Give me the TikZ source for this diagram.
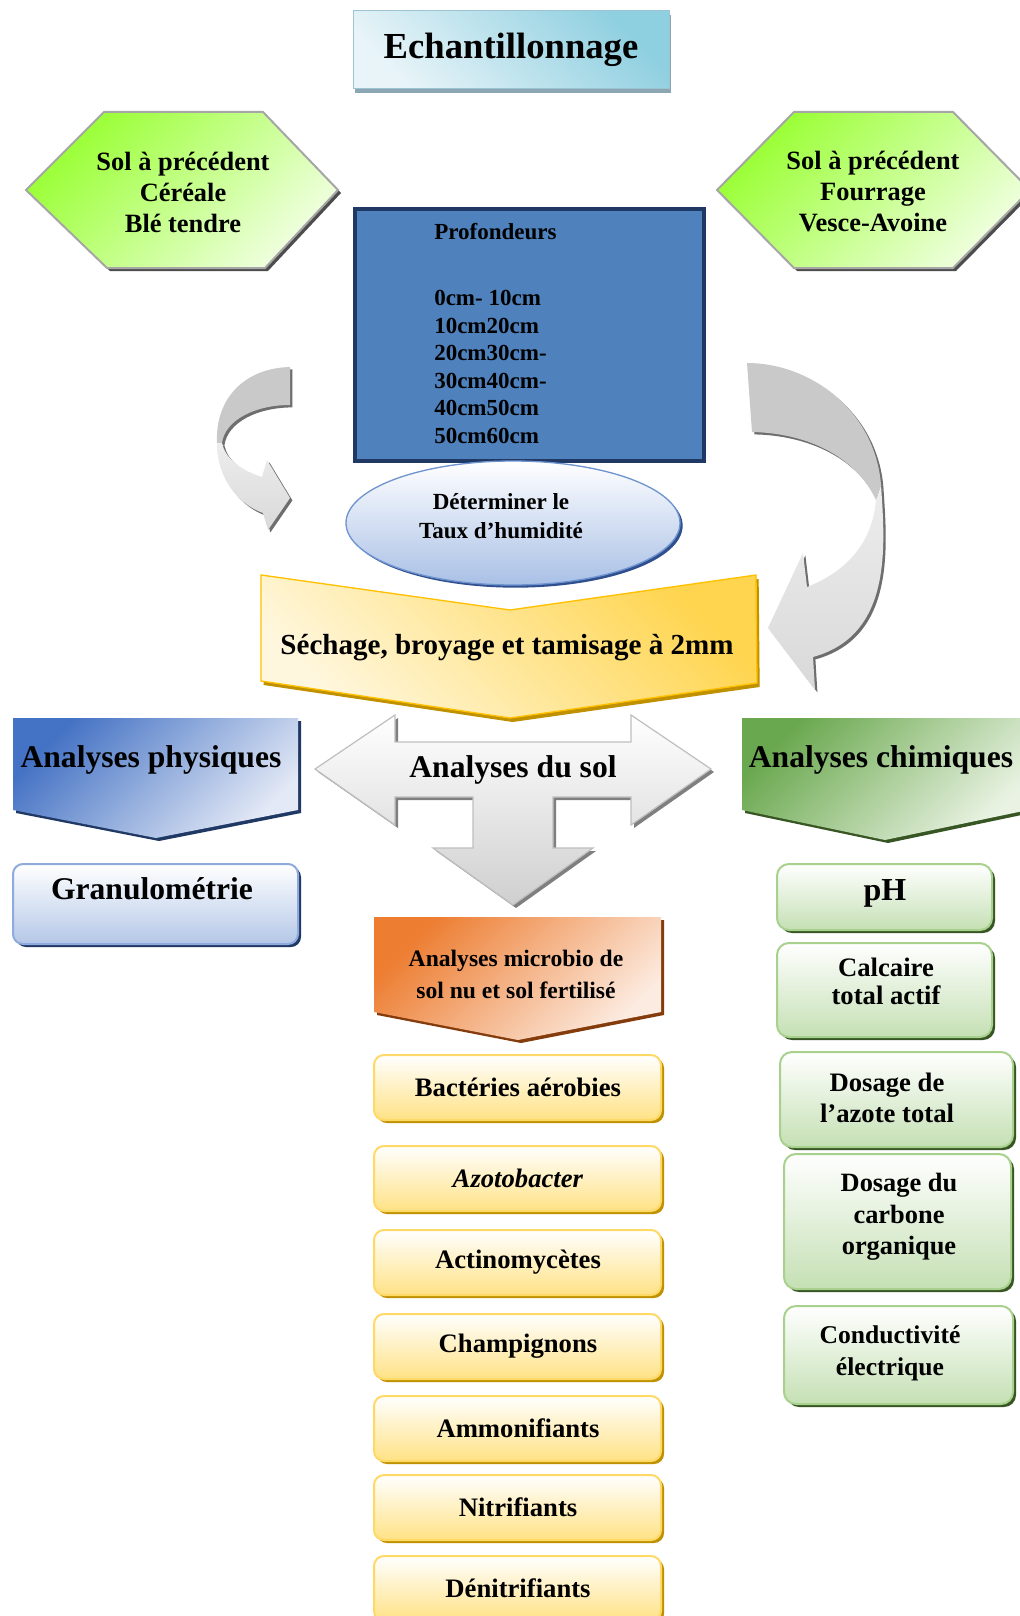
\documentclass[tikz,border=0pt]{standalone}
\usepackage{fontspec}
\setmainfont{Liberation Serif}
\usetikzlibrary{shadows}
\definecolor{EchTop}{HTML}{8ECFE0}
\definecolor{EchBot}{HTML}{E8F4F8}
\definecolor{EchBd}{HTML}{9CC3CF}
\definecolor{EchSh}{HTML}{8BA7B3}
\definecolor{HexTop}{HTML}{99FF33}
\definecolor{HexBot}{HTML}{F0FFE0}
\definecolor{HexBd}{HTML}{A6A6A6}
\definecolor{HexSh}{HTML}{4D4D4D}
\definecolor{ProfFill}{HTML}{4F81BD}
\definecolor{ProfBd}{HTML}{1F3864}
\definecolor{EllBot}{HTML}{A9C0E6}
\definecolor{EllBd}{HTML}{6F94D0}
\definecolor{EllSh}{HTML}{2F4F8F}
\definecolor{SecTop}{HTML}{FFD54F}
\definecolor{SecBot}{HTML}{FFF7DD}
\definecolor{SecBd}{HTML}{FFC000}
\definecolor{SecSh}{HTML}{BF9000}
\definecolor{PhyTop}{HTML}{4472C4}
\definecolor{PhyBot}{HTML}{E3E9F6}
\definecolor{PhySh}{HTML}{1F3864}
\definecolor{ChiTop}{HTML}{6AA84F}
\definecolor{ChiBot}{HTML}{EAF3E3}
\definecolor{ChiSh}{HTML}{375623}
\definecolor{SolBot}{HTML}{CFCFCF}
\definecolor{SolBd}{HTML}{BFBFBF}
\definecolor{SolSh}{HTML}{7F7F7F}
\definecolor{GraBot}{HTML}{B4C7E7}
\definecolor{GraBd}{HTML}{8FAADC}
\definecolor{OraTop}{HTML}{ED7D31}
\definecolor{OraBot}{HTML}{FCEBE0}
\definecolor{OraSh}{HTML}{843C0C}
\definecolor{YelBot}{HTML}{FFE285}
\definecolor{YelBd}{HTML}{FFD966}
\definecolor{GrnBot}{HTML}{C5E0B4}
\definecolor{GrnBd}{HTML}{A9D18E}
\definecolor{CurDark}{HTML}{C9C9C9}
\definecolor{CurLight}{HTML}{EDEDED}
\definecolor{CurMid}{HTML}{D9D9D9}
\definecolor{CurSh}{HTML}{6E6E6E}
\newcommand\fsz[2]{\fontsize{#1}{#2}\selectfont\bfseries}
\tikzset{
  shd/.style 2 args={drop shadow={shadow xshift=#1, shadow yshift=-#1, fill=#2, opacity=1}},
  echbox/.style={draw=EchBd, line width=0.75pt, top color=EchTop, bottom color=EchBot, shading angle=-45,
     drop shadow={shadow xshift=1.5pt, shadow yshift=-3pt, fill=EchSh, opacity=1}},
  hexa/.style={draw=HexBd, line width=1.5pt, top color=HexTop, bottom color=HexBot, shading angle=45, shd={2.25pt}{HexSh}},
  profbox/.style={fill=ProfFill, draw=ProfBd, line width=2.6pt},
  ellbox/.style={draw=EllBd, line width=1pt, top color=white, bottom color=EllBot, shd={2pt}{EllSh}},
  secbox/.style={draw=SecBd, line width=1pt, top color=SecTop, bottom color=SecBot, shading angle=-45,
     drop shadow={shadow xshift=2pt, shadow yshift=-3pt, fill=SecSh, opacity=1}},
  phybox/.style={top color=PhyTop, bottom color=PhyBot, shading angle=45, shd={2.25pt}{PhySh}},
  chibox/.style={top color=ChiTop, bottom color=ChiBot, shading angle=45, shd={2.25pt}{ChiSh}},
  solarrow/.style={draw=SolBd, line width=0.9pt, top color=white, bottom color=SolBot, shd={2.25pt}{SolSh}},
  grabox/.style={draw=GraBd, line width=1.5pt, rounded corners=7.5pt, top color=white, bottom color=GraBot, shd={2.25pt}{PhySh}},
  orabox/.style={top color=OraTop, bottom color=OraBot, shading angle=45, shd={2.25pt}{OraSh}},
  ybox/.style={draw=YelBd, line width=1.5pt, rounded corners=7.5pt, top color=white, bottom color=YelBot, shd={2.25pt}{SecSh}},
  gbox/.style={draw=GrnBd, line width=1.5pt, rounded corners=9pt, top color=white, bottom color=GrnBot, shd={2.25pt}{ChiSh}},
  curdark/.style={fill=CurDark, shd={1.8pt}{CurSh}},
  curlight/.style={top color=CurLight, bottom color=CurMid, shd={1.8pt}{CurSh}},
  lbl/.style={inner sep=0pt, align=center},
}
\begin{document}
\begin{tikzpicture}[x=0.75pt,y=-0.75pt]
\useasboundingbox (0,0) rectangle (1020,1616);
\clip (0,0) rectangle (1020,1616);
\fill[white] (0,0) rectangle (1020,1616);

% Echantillonnage
\path[echbox] (353,11) rectangle (669,89);
\node[lbl, font=\fsz{27.5pt}{33pt}] (ech) at (511,50) {Echantillonnage};

% hexagons
\path[hexa] (26,190) -- (104,112) -- (263,112) -- (338,190) -- (265,268) -- (107,268) -- cycle;
\node[lbl, font=\fsz{19.8pt}{23.25pt}] (hexL) at (183,192) {Sol à précédent\\Céréale\\Blé tendre};
\path[hexa] (717,190) -- (794,112) -- (953,112) -- (1030,190) -- (953,268) -- (794,268) -- cycle;
\node[lbl, font=\fsz{19.8pt}{23.25pt}] (hexR) at (873,192) {Sol à précédent\\Fourrage\\Vesce-Avoine};

% curved arrows
\path[curdark] (290,367) .. controls (245,368) and (215,398) .. (217,443) -- (222,443)
   .. controls (225,420) and (255,405) .. (290,405) -- cycle;
\path[curlight] (217,443) .. controls (217,480) and (240,505) .. (263,513) -- (268,530) -- (290,498)
   -- (267,460) -- (262,477) .. controls (240,470) and (225,458) .. (222,443) -- cycle;
\path[curdark] (747,363) .. controls (810,363) and (875,410) .. (881,485) -- (876,500)
   .. controls (855,455) and (805,433) .. (752,432) -- cycle;
\path[curlight] (881,485) .. controls (885,545) and (893,635) .. (813,657) -- (815,690) -- (768,628)
   -- (803,553) -- (807,587) .. controls (845,572) and (872,545) .. (876,500) -- cycle;

% Profondeurs
\path[profbox] (355,209) rectangle (704,461);
\node[lbl, anchor=west, font=\fsz{17.25pt}{20.7pt}] (prof) at (434,232) {Profondeurs};
\node[lbl, anchor=west, align=left, font=\fsz{17.25pt}{20.7pt}] (profl) at (434,367)
  {0cm- 10cm\\10cm20cm\\20cm30cm-\\30cm40cm-\\40cm50cm\\50cm60cm};

% ellipse
\path[ellbox] (513,523) ellipse [x radius=125.25pt, y radius=46.5pt];
\node[lbl, font=\fsz{17.3pt}{21.75pt}] (hum) at (501,516) {Déterminer le\\Taux d’humidité};

% Sechage
\path[secbox] (261,575) -- (510,610) -- (756,575) -- (757,683) -- (510,718) -- (261,681) -- cycle;
\node[lbl, font=\fsz{21.8pt}{26pt}] (sech) at (507,648) {Séchage, broyage et tamisage à 2mm};

% Analyses physiques / chimiques
\path[phybox] (13,718) -- (298,718) -- (298,810) -- (156,838) -- (13,810) -- cycle;
\node[lbl, font=\fsz{23.7pt}{28pt}] (phy) at (151,760) {Analyses physiques};
\path[chibox] (742,718) -- (1028,718) -- (1028,810) -- (885,840) -- (742,810) -- cycle;
\node[lbl, font=\fsz{23.7pt}{28pt}] (chi) at (881,760) {Analyses chimiques};

% Analyses du sol arrow
\path[solarrow] (315,769) -- (395,715) -- (395,742) -- (631,742) -- (631,715) -- (711,769) -- (631,825)
  -- (631,797) -- (553,797) -- (553,848) -- (593,848) -- (513,905) -- (433,848) -- (473,848)
  -- (473,797) -- (395,797) -- (395,825) -- cycle;
\node[lbl, font=\fsz{23.7pt}{28pt}] (sol) at (513,770) {Analyses du sol};

% Granulometrie
\path[grabox] (13,864) rectangle (298,944);
\node[lbl, font=\fsz{23.7pt}{28pt}] (gra) at (152,889) {Granulométrie};

% microbio
\path[orabox] (374,917) -- (661,917) -- (661,1012) -- (518,1040) -- (374,1012) -- cycle;
\node[lbl, font=\fsz{17.7pt}{24pt}] (mic) at (516,974) {Analyses microbio de\\sol nu et sol fertilisé};

% yellow boxes
\foreach \ty/\lab/\nm in {1055/{Bactéries aérobies}/yb1, 1146/{\textit{Azotobacter}}/yb2,
   1230/{Actinomycètes}/yb3, 1314/{Champignons}/yb4, 1396/{Ammonifiants}/yb5,
   1475/{Nitrifiants}/yb6, 1556/{Dénitrifiants}/yb7}{
  \path[ybox] (374,\ty) rectangle (661,\ty+65);
  \node[lbl, font=\fsz{20pt}{24pt}] (\nm) at (518,\ty+32) {\lab};
}

% green boxes
\path[gbox] (777,864) rectangle (992,930);
\node[lbl, font=\fsz{24pt}{28pt}] (ph) at (885,893) {pH};
\path[gbox] (777,943) rectangle (992,1037);
\node[lbl, font=\fsz{20pt}{21pt}] (cal) at (886,981) {Calcaire\\total actif};
\path[gbox] (780,1052) rectangle (1013,1147);
\node[lbl, font=\fsz{20pt}{23.25pt}] (azo) at (887,1098) {Dosage de\\l’azote total};
\path[gbox] (784,1154) rectangle (1011,1289);
\node[lbl, font=\fsz{19.8pt}{23.6pt}] (car) at (899,1217) {Dosage du\\carbone\\organique};
\path[gbox] (784,1306) rectangle (1013,1404);
\node[lbl, font=\fsz{19.2pt}{24pt}] (con) at (890,1353) {Conductivité\\électrique};
\end{tikzpicture}
\end{document}
